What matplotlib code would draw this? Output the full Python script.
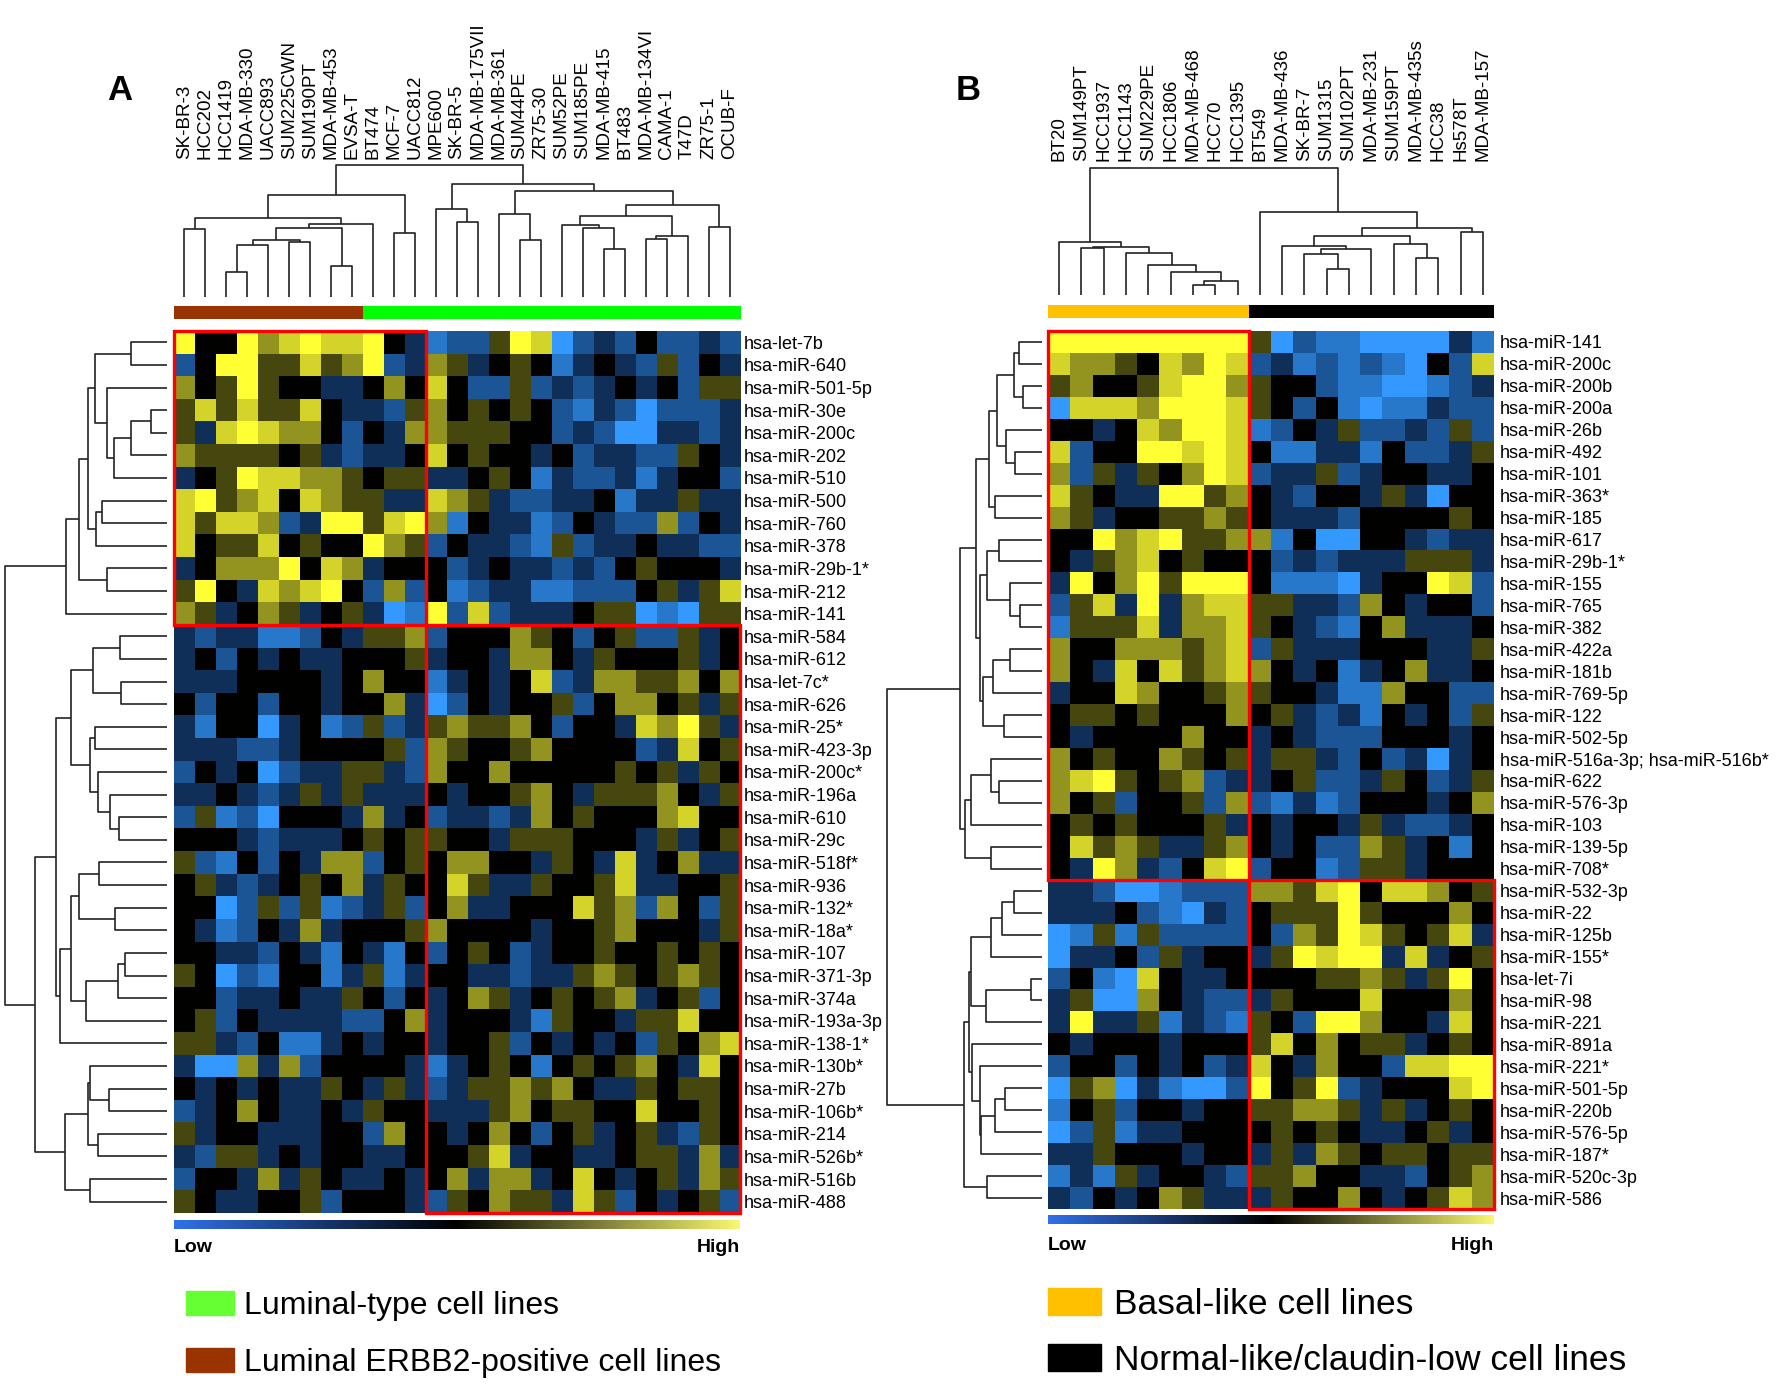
import numpy as np
import matplotlib
matplotlib.use('Agg')
import matplotlib.pyplot as plt
from matplotlib.colors import LinearSegmentedColormap, ListedColormap
from matplotlib.patches import Rectangle, Patch

plt.rcParams['font.family'] = ['Liberation Sans', 'DejaVu Sans']

# ---- data: panel A ----
cols_a = ['SK-BR-3', 'HCC202', 'HCC1419', 'MDA-MB-330', 'UACC893', 'SUM225CWN', 'SUM190PT',
          'MDA-MB-453', 'EVSA-T', 'BT474', 'MCF-7', 'UACC812', 'MPE600', 'SK-BR-5',
          'MDA-MB-175VII', 'MDA-MB-361', 'SUM44PE', 'ZR75-30', 'SUM52PE', 'SUM185PE',
          'MDA-MB-415', 'BT483', 'MDA-MB-134VI', 'CAMA-1', 'T47D', 'ZR75-1', 'OCUB-F']
rows_a = ['hsa-let-7b', 'hsa-miR-640', 'hsa-miR-501-5p', 'hsa-miR-30e', 'hsa-miR-200c',
          'hsa-miR-202', 'hsa-miR-510', 'hsa-miR-500', 'hsa-miR-760', 'hsa-miR-378',
          'hsa-miR-29b-1*', 'hsa-miR-212', 'hsa-miR-141', 'hsa-miR-584', 'hsa-miR-612',
          'hsa-let-7c*', 'hsa-miR-626', 'hsa-miR-25*', 'hsa-miR-423-3p', 'hsa-miR-200c*',
          'hsa-miR-196a', 'hsa-miR-610', 'hsa-miR-29c', 'hsa-miR-518f*', 'hsa-miR-936',
          'hsa-miR-132*', 'hsa-miR-18a*', 'hsa-miR-107', 'hsa-miR-371-3p', 'hsa-miR-374a',
          'hsa-miR-193a-3p', 'hsa-miR-138-1*', 'hsa-miR-130b*', 'hsa-miR-27b', 'hsa-miR-106b*',
          'hsa-miR-214', 'hsa-miR-526b*', 'hsa-miR-516b', 'hsa-miR-488']
# expression level per cell, 0 = strongest blue, 4 = black, 8 = strongest yellow
heat_a = [
    "844867877843" "122587023242232",
    "248855756823" "653454134325243",
    "645854433464" "742252323434255",
    "575755743325" "645454213202223",
    "537876642436" "655544232003323",
    "655554532334" "745443423322543",
    "345877665455" "334541322313442",
    "785674765533" "765322334133533",
    "757762388578" "614331243226243",
    "745574544865" "243321523343322",
    "346668476344" "423433232454443",
    "584376784262" "412331122245357",
    "653465345301" "827233345501055",
    "323311243556" "244465424522534",
    "342434334445" "344366435444534",
    "333444434644" "134347236655646",
    "424424434463" "024344524664535",
    "314403412523" "565564244376853",
    "333223444452" "654456444423745",
    "243402335532" "644644444545354",
    "334323535333" "434456435556435",
    "251204443634" "233236454446744",
    "444323334545" "544355544435345",
    "521424366245" "466443543734633",
    "453234546354" "475335445733445",
    "440252512352" "463344475626425",
    "431243634445" "644443445644435",
    "443324314314" "245423445445454",
    "540214413513" "443323356545654",
    "442334335424" "346534545634524",
    "452433332246" "344431544355744",
    "553241134344" "344524343425467",
    "300636244443" "134541454564374",
    "434343354353" "235565643354554",
    "234643343544" "333564554474454",
    "534433344264" "434642453453254",
    "325534344334" "445734433455363",
    "244363543343" "463663474345365",
    "543344524443" "254655375243452",
]
group_a = [1] * 9 + [0] * 18          # 1 = luminal ERBB2-positive, 0 = luminal-type
boxes_a = [(0, 13, 0, 12), (13, 39, 12, 27)]   # row0, row1, col0, col1
# merges (left, right, height), new node ids start after the leaves
col_links_a = [(0, 1, 204), (2, 3, 75), (28, 4, 157), (5, 6, 165), (29, 30, 170),
               (7, 8, 93), (31, 32, 206), (33, 9, 220), (27, 34, 238), (10, 11, 193),
               (35, 36, 307), (13, 14, 226), (12, 38, 263), (16, 17, 172), (15, 40, 250),
               (20, 21, 145), (19, 42, 207), (18, 43, 217), (22, 23, 174), (45, 24, 182),
               (44, 46, 242), (25, 26, 210), (47, 48, 276), (41, 49, 319), (39, 50, 338),
               (37, 51, 396)]
row_links_a = [(0, 1, 108), (3, 4, 48), (40, 5, 108), (41, 6, 158), (2, 42, 180),
               (39, 43, 215), (7, 8, 194), (45, 9, 213), (44, 46, 238), (10, 11, 180),
               (47, 48, 265), (49, 12, 303), (13, 14, 142), (15, 16, 137), (51, 52, 222),
               (17, 18, 217), (21, 22, 144), (20, 55, 170), (19, 56, 208), (54, 57, 230),
               (53, 58, 287), (23, 24, 205), (25, 26, 155), (60, 61, 265), (27, 28, 125),
               (63, 29, 147), (64, 30, 243), (62, 65, 287), (66, 31, 320), (59, 67, 332),
               (33, 34, 175), (32, 69, 230), (35, 36, 207), (70, 71, 238), (37, 38, 230),
               (72, 73, 307), (68, 74, 397), (50, 75, 486)]

# ---- data: panel B ----
cols_b = ['BT20', 'SUM149PT', 'HCC1937', 'HCC1143', 'SUM229PE', 'HCC1806', 'MDA-MB-468',
          'HCC70', 'HCC1395', 'BT549', 'MDA-MB-436', 'SK-BR-7', 'SUM1315', 'SUM102PT',
          'MDA-MB-231', 'SUM159PT', 'MDA-MB-435s', 'HCC38', 'Hs578T', 'MDA-MB-157']
rows_b = ['hsa-miR-141', 'hsa-miR-200c', 'hsa-miR-200b', 'hsa-miR-200a', 'hsa-miR-26b',
          'hsa-miR-492', 'hsa-miR-101', 'hsa-miR-363*', 'hsa-miR-185', 'hsa-miR-617',
          'hsa-miR-29b-1*', 'hsa-miR-155', 'hsa-miR-765', 'hsa-miR-382', 'hsa-miR-422a',
          'hsa-miR-181b', 'hsa-miR-769-5p', 'hsa-miR-122', 'hsa-miR-502-5p',
          'hsa-miR-516a-3p; hsa-miR-516b*', 'hsa-miR-622', 'hsa-miR-576-3p', 'hsa-miR-103',
          'hsa-miR-139-5p', 'hsa-miR-708*', 'hsa-miR-532-3p', 'hsa-miR-22', 'hsa-miR-125b',
          'hsa-miR-155*', 'hsa-let-7i', 'hsa-miR-98', 'hsa-miR-221', 'hsa-miR-891a',
          'hsa-miR-221*', 'hsa-miR-501-5p', 'hsa-miR-220b', 'hsa-miR-576-5p', 'hsa-miR-187*',
          'hsa-miR-520c-3p', 'hsa-miR-586']
heat_b = [
    "888888888" "50211000031",
    "766547687" "23121210427",
    "564457886" "54421100123",
    "077768887" "54241011322",
    "443476887" "12435223252",
    "724488787" "41133142235",
    "625354687" "23352344334",
    "754338856" "43244353044",
    "653445565" "43332444454",
    "448678556" "61400443233",
    "435674544" "42323335553",
    "384685888" "41110344872",
    "257383677" "55332643442",
    "155573667" "54321463334",
    "644666567" "25333444335",
    "643747567" "64341346334",
    "344764456" "54431164422",
    "455454446" "45323143425",
    "434444644" "34322244434",
    "645446545" "35532423034",
    "678545623" "34522354235",
    "645244526" "21312444346",
    "454544453" "43443532234",
    "475653356" "43422653414",
    "438632478" "24412553444",
    "332001222" "66578477645",
    "333421032" "45558544464",
    "015152222" "42658754573",
    "033425344" "35878837345",
    "241074334" "44455653584",
    "350064322" "35444744464",
    "383351321" "54288644374",
    "434443444" "57464553454",
    "244243423" "74364427788",
    "056031002" "84582344478",
    "145244344" "55665353454",
    "025133444" "45454334534",
    "335444344" "35365455455",
    "131534432" "55644332456",
    "324346533" "35446434576",
]
group_b = [0] * 9 + [1] * 11          # 0 = basal-like, 1 = normal-like/claudin-low
boxes_b = [(0, 25, 0, 9), (25, 40, 9, 20)]
col_links_b = [(6, 7, 30), (20, 8, 43), (5, 21, 70), (4, 22, 90), (3, 23, 127),
               (1, 2, 141), (25, 24, 145), (0, 26, 160), (12, 13, 77), (11, 28, 123),
               (29, 14, 137), (10, 30, 147), (16, 17, 112), (15, 32, 152), (31, 33, 178),
               (18, 19, 188), (34, 35, 200), (9, 36, 247), (27, 37, 380)]
row_links_b = [(0, 1, 70), (2, 3, 57), (40, 41, 85), (5, 6, 81), (4, 43, 107),
               (42, 44, 135), (7, 8, 140), (45, 46, 158), (9, 10, 127), (12, 13, 65),
               (11, 49, 97), (48, 50, 165), (14, 15, 95), (52, 16, 145), (17, 18, 115),
               (53, 54, 175), (51, 55, 185), (47, 56, 197), (20, 21, 127), (19, 58, 153),
               (59, 22, 213), (23, 24, 153), (60, 61, 230), (57, 62, 245), (25, 26, 85),
               (64, 27, 118), (65, 28, 153), (29, 30, 33), (67, 31, 167), (66, 68, 213),
               (34, 35, 112), (70, 36, 140), (71, 37, 182), (33, 72, 185), (32, 73, 208),
               (69, 74, 217), (38, 39, 163), (75, 76, 233), (63, 77, 463)]

# ---- drawing ----
W, H = 1791, 1386
fig = plt.figure(figsize=(W / 100, H / 100), dpi=100)
heat_cmap = LinearSegmentedColormap.from_list(
    'bky', [(0.0, '#3399ff'), (0.125, '#2878cc'), (0.25, '#1d5696'), (0.375, '#10305a'),
            (0.5, '#000000'), (0.625, '#45450f'), (0.75, '#92921f'), (0.875, '#d2d22a'),
            (1.0, '#ffff33')])
bar_cmap = LinearSegmentedColormap.from_list('bar', ['#3070e8', '#000000', '#f8f870'])


def px_axes(x0, y0, x1, y1):
    ax = fig.add_axes([x0 / W, 1 - y1 / H, (x1 - x0) / W, (y1 - y0) / H])
    return ax


def dendro_segments(links, n):
    pos = {i: (float(i), 0.0) for i in range(n)}
    segs = []
    for k, (a, b, h) in enumerate(links):
        xa, ha = pos[a]
        xb, hb = pos[b]
        segs.append(([xa, xa, xb, xb], [ha, h, h, hb]))
        pos[n + k] = ((xa + xb) / 2, h)
    return segs


def col_dendro(ax, links, labels, pad):
    n = len(labels)
    for xs, hs in dendro_segments(links, n):
        ax.plot(xs, hs, color='#222222', lw=1.2, clip_on=False, solid_capstyle='butt')
    ax.set_xlim(-0.5, n - 0.5)
    ax.set_ylim(0, max(l[2] for l in links))
    ax.xaxis.tick_top()
    ax.set_xticks(range(n))
    ax.set_xticklabels(labels, rotation=90, fontsize=13.5)
    ax.tick_params(axis='x', length=0, pad=pad)
    ax.set_yticks([])
    for s in ax.spines.values():
        s.set_visible(False)
    ax.patch.set_alpha(0)


def row_dendro(ax, links, n):
    for xs, hs in dendro_segments(links, n):
        ax.plot(hs, xs, color='#222222', lw=1.2, clip_on=False, solid_capstyle='butt')
    ax.set_xlim(max(l[2] for l in links), 0)
    ax.set_ylim(n - 0.5, -0.5)
    ax.set_axis_off()


def heatmap(ax, rows, labels, boxes, pad):
    data = np.array([[int(c) for c in r] for r in rows], dtype=float)
    ax.imshow(data, cmap=heat_cmap, vmin=0, vmax=8, aspect='auto', interpolation='nearest')
    ax.yaxis.tick_right()
    ax.set_yticks(range(len(labels)))
    ax.set_yticklabels(labels, fontsize=13)
    ax.tick_params(axis='y', length=0, pad=pad)
    ax.set_xticks([])
    for s in ax.spines.values():
        s.set_visible(False)
    for r0, r1, c0, c1 in boxes:
        ax.add_patch(Rectangle((c0 - 0.5, r0 - 0.5), c1 - c0, r1 - r0, fill=False,
                               ec='#ff0000', lw=2.4, clip_on=False, zorder=5))


def group_strip(ax, groups, colors):
    ax.imshow([groups], cmap=ListedColormap(colors), vmin=0, vmax=len(colors) - 1,
              aspect='auto', interpolation='nearest')
    ax.set_axis_off()


def value_bar(ax, y_txt, x0, x1):
    sm = plt.cm.ScalarMappable(cmap=bar_cmap, norm=plt.Normalize(0, 8))
    cb = fig.colorbar(sm, cax=ax, orientation='horizontal')
    cb.set_ticks([])
    cb.outline.set_visible(False)
    fig.text(x0 / W, 1 - y_txt / H, 'Low', fontsize=14, fontweight='bold', ha='left', va='center')
    fig.text(x1 / W, 1 - y_txt / H, 'High', fontsize=14, fontweight='bold', ha='right', va='center')


# panel A
heatmap(px_axes(174, 331, 740, 1213), heat_a, rows_a, boxes_a, 3)
row_dendro(px_axes(5, 331, 167, 1213), row_links_a, len(rows_a))
col_dendro(px_axes(174, 165, 740, 297), col_links_a, cols_a, 4.5)
group_strip(px_axes(174, 306, 740, 319), group_a, ['#00ff00', '#993300'])
value_bar(px_axes(174, 1220, 740, 1229), 1248, 174, 740)
fig.text(120 / W, 1 - 91 / H, 'A', fontsize=25, fontweight='bold', ha='center', va='center')

# panel B
heatmap(px_axes(1048, 331, 1494, 1209), heat_b, rows_b, boxes_b, 4)
row_dendro(px_axes(887, 331, 1042, 1209), row_links_b, len(rows_b))
col_dendro(px_axes(1048, 168, 1494, 295), col_links_b, cols_b, 5)
group_strip(px_axes(1048, 305, 1494, 318), group_b, ['#ffc000', '#000000'])
value_bar(px_axes(1048, 1215, 1494, 1224), 1245, 1048, 1494)
fig.text(968 / W, 1 - 91 / H, 'B', fontsize=25, fontweight='bold', ha='center', va='center')

# legends
leg_kw = dict(frameon=False, handlelength=1.5, handleheight=0.78, borderpad=0,
              borderaxespad=0, loc='upper left')
fig.legend([Patch(color='#66ff33'), Patch(color='#993300')],
           ['Luminal-type cell lines', 'Luminal ERBB2-positive cell lines'],
           bbox_to_anchor=(186 / W, 1 - 1291 / H), fontsize=23, handletextpad=0.3,
           labelspacing=0.85, **leg_kw)
fig.legend([Patch(color='#ffc000'), Patch(color='#000000')],
           ['Basal-like cell lines', 'Normal-like/claudin-low cell lines'],
           bbox_to_anchor=(1048 / W, 1 - 1288 / H), fontsize=25.5, handletextpad=0.35,
           labelspacing=0.65, **leg_kw)

fig.savefig('out.png', dpi=100)
